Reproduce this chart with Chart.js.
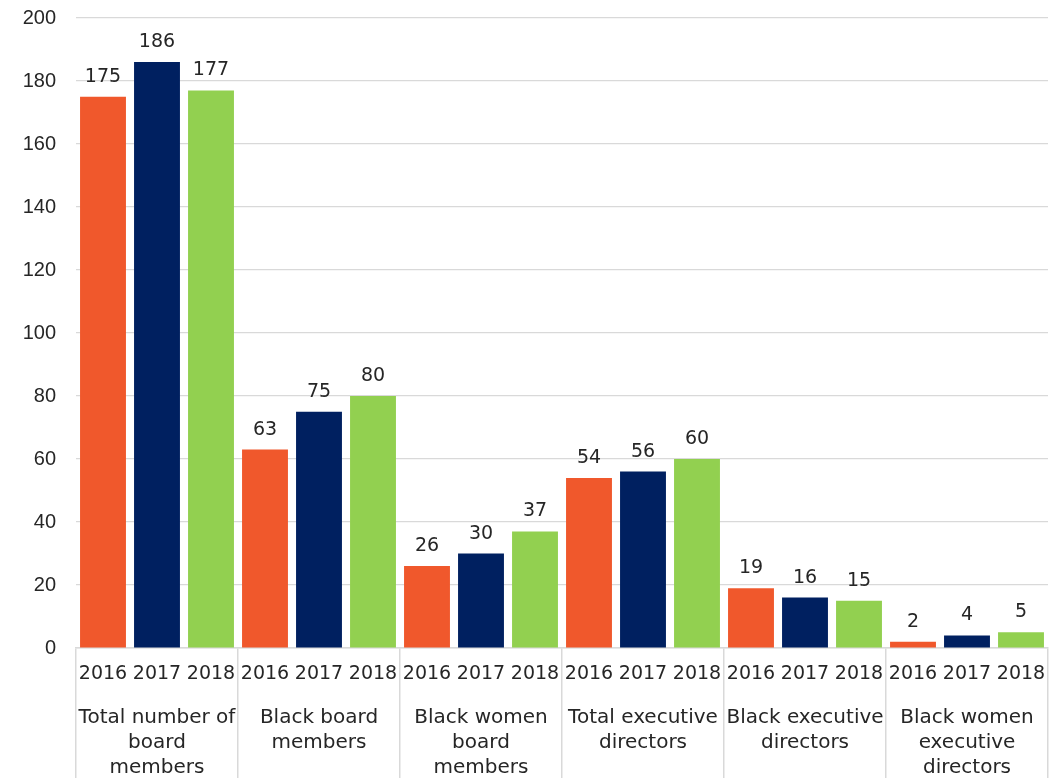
<!DOCTYPE html>
<html>
<head>
<meta charset="utf-8">
<script src="https://cdn.jsdelivr.net/npm/chart.js@4.4.1/dist/chart.umd.min.js"></script>
<style>
	html, body { margin: 0; padding: 0; background: #fff; }
	#wrap { width: 1064px; height: 778px; }
</style>
</head>
<body>
<div id="wrap"><canvas id="chart" width="1064" height="778"></canvas></div>
<script>
// board composition by year
const categories = [
	['Total number of', 'board', 'members'],
	['Black board', 'members'],
	['Black women', 'board', 'members'],
	['Total executive', 'directors'],
	['Black executive', 'directors'],
	['Black women', 'executive', 'directors'],
]
const years = ['2016', '2017', '2018']
const values2016 = [175, 63, 26, 54, 19, 2]
const values2017 = [186, 75, 30, 56, 16, 4]
const values2018 = [177, 80, 37, 60, 15, 5]
const yTicks = [0, 20, 40, 60, 80, 100, 120, 140, 160, 180, 200]

const colors = ['#F0582C', '#002060', '#92D050']
const labelFont = '19px "DejaVu Sans"'
const textColor = '#262626'

// year under each bar + value above each bar
const barLabels = {
	id: 'barLabels',
	afterDraw(chart) {
		const ctx = chart.ctx
		const xScale = chart.scales.x
		ctx.save()
		ctx.font = labelFont
		ctx.fillStyle = textColor
		ctx.textAlign = 'center'
		chart.data.datasets.forEach(function (ds, i) {
			let meta = chart.getDatasetMeta(i)
			meta.data.forEach(function (bar, j) {
				ctx.textBaseline = 'middle'
				ctx.fillText(ds.label, bar.x, xScale.top + 26)
				ctx.textBaseline = 'alphabetic'
				ctx.fillText(String(ds.data[j]), bar.x, bar.y - 15)
			})
		})
		ctx.restore()
	},
}

let data = {
	labels: categories,
	datasets: [
		{ label: years[0], data: values2016, backgroundColor: colors[0] },
		{ label: years[1], data: values2017, backgroundColor: colors[1] },
		{ label: years[2], data: values2018, backgroundColor: colors[2] },
	],
}

let options = {
	responsive: false,
	animation: false,
	categoryPercentage: 1.0,
	barPercentage: 0.85,
	layout: { padding: { top: 18, right: 16, left: 0, bottom: 0 } },
	plugins: {
		legend: { display: false },
		tooltip: { enabled: false },
	},
	scales: {
		x: {
			afterFit: function (scale) {
				scale.height = 130
				scale.paddingTop = 0
				scale.paddingBottom = 0
			},
			grid: {
				offset: true,
				drawOnChartArea: false,
				drawTicks: true,
				tickLength: 130,
				color: '#d9d9d9',
				lineWidth: 1.5,
			},
			border: { display: true, color: '#d9d9d9', width: 1.5 },
			ticks: {
				font: { family: 'DejaVu Sans', size: 20, lineHeight: 1.26 },
				color: textColor,
				padding: -73,
				maxRotation: 0,
				autoSkip: false,
			},
		},
		y: {
			min: 0,
			max: 200,
			afterFit: function (scale) {
				scale.width = 76
				scale.paddingTop = 0
				scale.paddingBottom = 0
			},
			afterBuildTicks: function (scale) {
				scale.ticks = yTicks.map(function (v) {
					return { value: v }
				})
			},
			grid: { color: '#d9d9d9', lineWidth: 1.2, drawTicks: false },
			border: { display: false },
			ticks: {
				font: { family: 'Liberation Sans', size: 20 },
				color: textColor,
				padding: 20,
			},
		},
	},
}

let chart = new Chart(document.getElementById('chart'), {
	type: 'bar',
	data: data,
	options: options,
	plugins: [barLabels],
})
</script>
</body>
</html>
